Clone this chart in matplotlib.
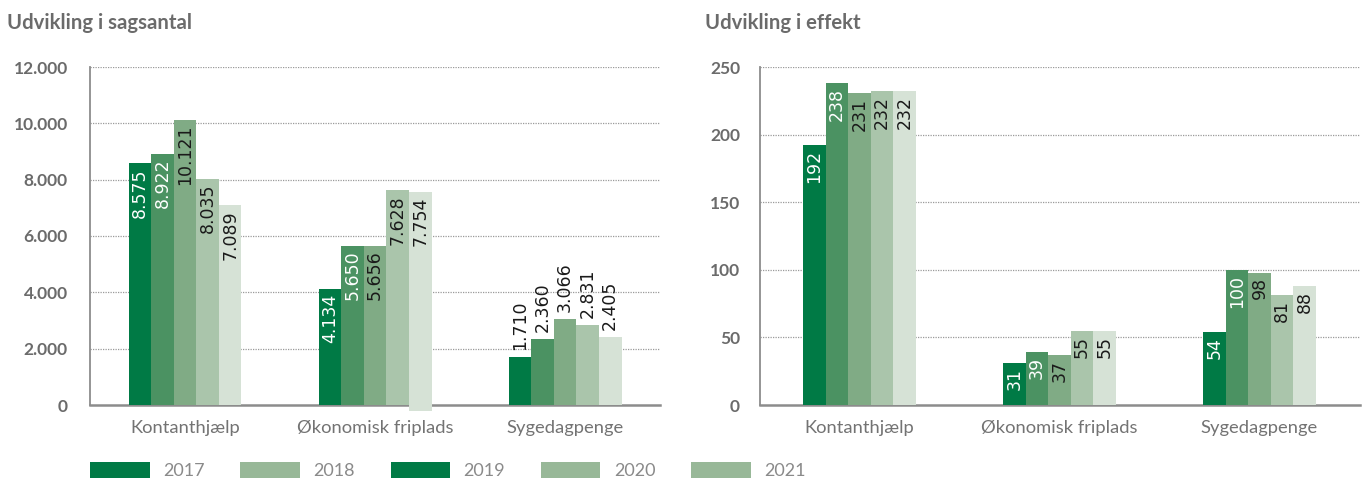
import matplotlib
matplotlib.use("Agg")
import matplotlib.pyplot as plt
from matplotlib.patches import Patch
import numpy as np

# ---- data ----
categories = ["Kontanthjælp", "Økonomisk friplads", "Sygedagpenge"]
years = ["2017", "2018", "2019", "2020", "2021"]

# Udvikling i sagsantal (rows = years, cols = categories)
sag_2017 = [8575, 4134, 1710]
sag_2018 = [8922, 5650, 2360]
sag_2019 = [10121, 5656, 3066]
sag_2020 = [8035, 7628, 2831]
sag_2021 = [7089, 7754, 2405]

# Udvikling i effekt
eff_2017 = [192, 31, 54]
eff_2018 = [238, 39, 100]
eff_2019 = [231, 37, 98]
eff_2020 = [232, 55, 81]
eff_2021 = [232, 55, 88]

left_ticks = [0, 2000, 4000, 6000, 8000, 10000, 12000]
right_ticks = [0, 50, 100, 150, 200, 250]

# the reference shows one bar drawn slightly below the baseline
shifted_left = {("2021", "Økonomisk friplads"): -200}
outside_left = ["Sygedagpenge"]
outside_right = []

bar_colors = ["#007a45", "#4b9262", "#80ab85", "#aac5ab", "#d6e2d6"]
label_colors = ["white", "white", "#1a1a1a", "#1a1a1a", "#1a1a1a"]
legend_colors = ["#007a45", "#98b898", "#007a45", "#98b898", "#98b898"]

GRAY = "#6b6b6b"
AXGRAY = "#8c8c8c"

W, H = 1368, 479
fig = plt.figure(figsize=(W / 100, H / 100), dpi=100)


def fmt(v):
    return f"{v:,}".replace(",", ".")


def panel(rect, series, ticks, group_w, shifted, outside, tick_pad):
    ax = fig.add_axes(rect)
    n = len(series)
    bw = group_w / n
    x = np.arange(len(categories))
    for i, (yr, vals) in enumerate(zip(years, series)):
        xs = x - group_w / 2 + bw * (i + 0.5)
        for j, v in enumerate(vals):
            b = shifted.get((yr, categories[j]), 0)
            ax.bar(xs[j], v, width=bw, bottom=b, color=bar_colors[i],
                   linewidth=0, zorder=3, clip_on=False)
            top = v + b
            if categories[j] in outside:
                ax.annotate(fmt(v), (xs[j], top), xytext=(0, 5),
                            textcoords="offset points", rotation=90,
                            ha="center", va="bottom", fontsize=12.5,
                            color="#1a1a1a", family="DejaVu Sans", zorder=4)
            else:
                ax.annotate(fmt(v), (xs[j], top), xytext=(0, -3.5),
                            textcoords="offset points", rotation=90,
                            ha="center", va="top", fontsize=12.5,
                            color=label_colors[i], family="DejaVu Sans",
                            zorder=4)
    ax.set_xlim(-0.5, len(categories) - 0.5)
    ax.set_ylim(0, ticks[-1])
    ax.set_yticks(ticks)
    ax.set_yticklabels([fmt(t) for t in ticks], fontsize=12.5,
                       fontweight="bold", color=GRAY, family="Lato")
    ax.set_xticks(x)
    ax.set_xticklabels(categories, fontsize=13.2, color="#737373",
                       family="Lato")
    ax.tick_params(axis="y", length=0, pad=tick_pad)
    ax.tick_params(axis="x", length=0, pad=11)
    for t in ticks[1:]:
        ax.axhline(t, color="#9a9a9a", lw=0.9, ls=(0, (1, 1)), zorder=1)
    for s in ["top", "right"]:
        ax.spines[s].set_visible(False)
    ax.spines["left"].set_color(AXGRAY)
    ax.spines["left"].set_linewidth(1.3)
    ax.spines["bottom"].set_color(AXGRAY)
    ax.spines["bottom"].set_linewidth(1.8)
    ax.spines["bottom"].set_zorder(2)
    return ax


axL = panel([90 / W, (H - 405) / H, 570 / W, 338 / H],
            [sag_2017, sag_2018, sag_2019, sag_2020, sag_2021],
            left_ticks, 113 / 190, shifted_left, outside_left, 16)
axR = panel([759.5 / W, (H - 405) / H, 600 / W, 338 / H],
            [eff_2017, eff_2018, eff_2019, eff_2020, eff_2021],
            right_ticks, 113 / 200, {}, outside_right, 14)

fig.text(7 / W, 1 - 29 / H, "Udvikling i sagsantal", fontsize=14.6,
         fontweight="bold", color=GRAY, family="Lato", va="baseline")
fig.text(705 / W, 1 - 29 / H, "Udvikling i effekt", fontsize=14.6,
         fontweight="bold", color=GRAY, family="Lato", va="baseline")

handles = [Patch(facecolor=c, edgecolor="none") for c in legend_colors]
fig.legend(handles, years, loc="upper left", bbox_to_anchor=(90 / W, 1 - 462 / H),
           ncol=5, frameon=False, handlelength=3.3,
           handleheight=1.0, handletextpad=0.75, columnspacing=1.97,
           borderaxespad=0, borderpad=0,
           prop={"family": "Lato", "size": 13})
for t in fig.legends[0].get_texts():
    t.set_color("#8a8a8a")

fig.savefig("out.png", dpi=100)
